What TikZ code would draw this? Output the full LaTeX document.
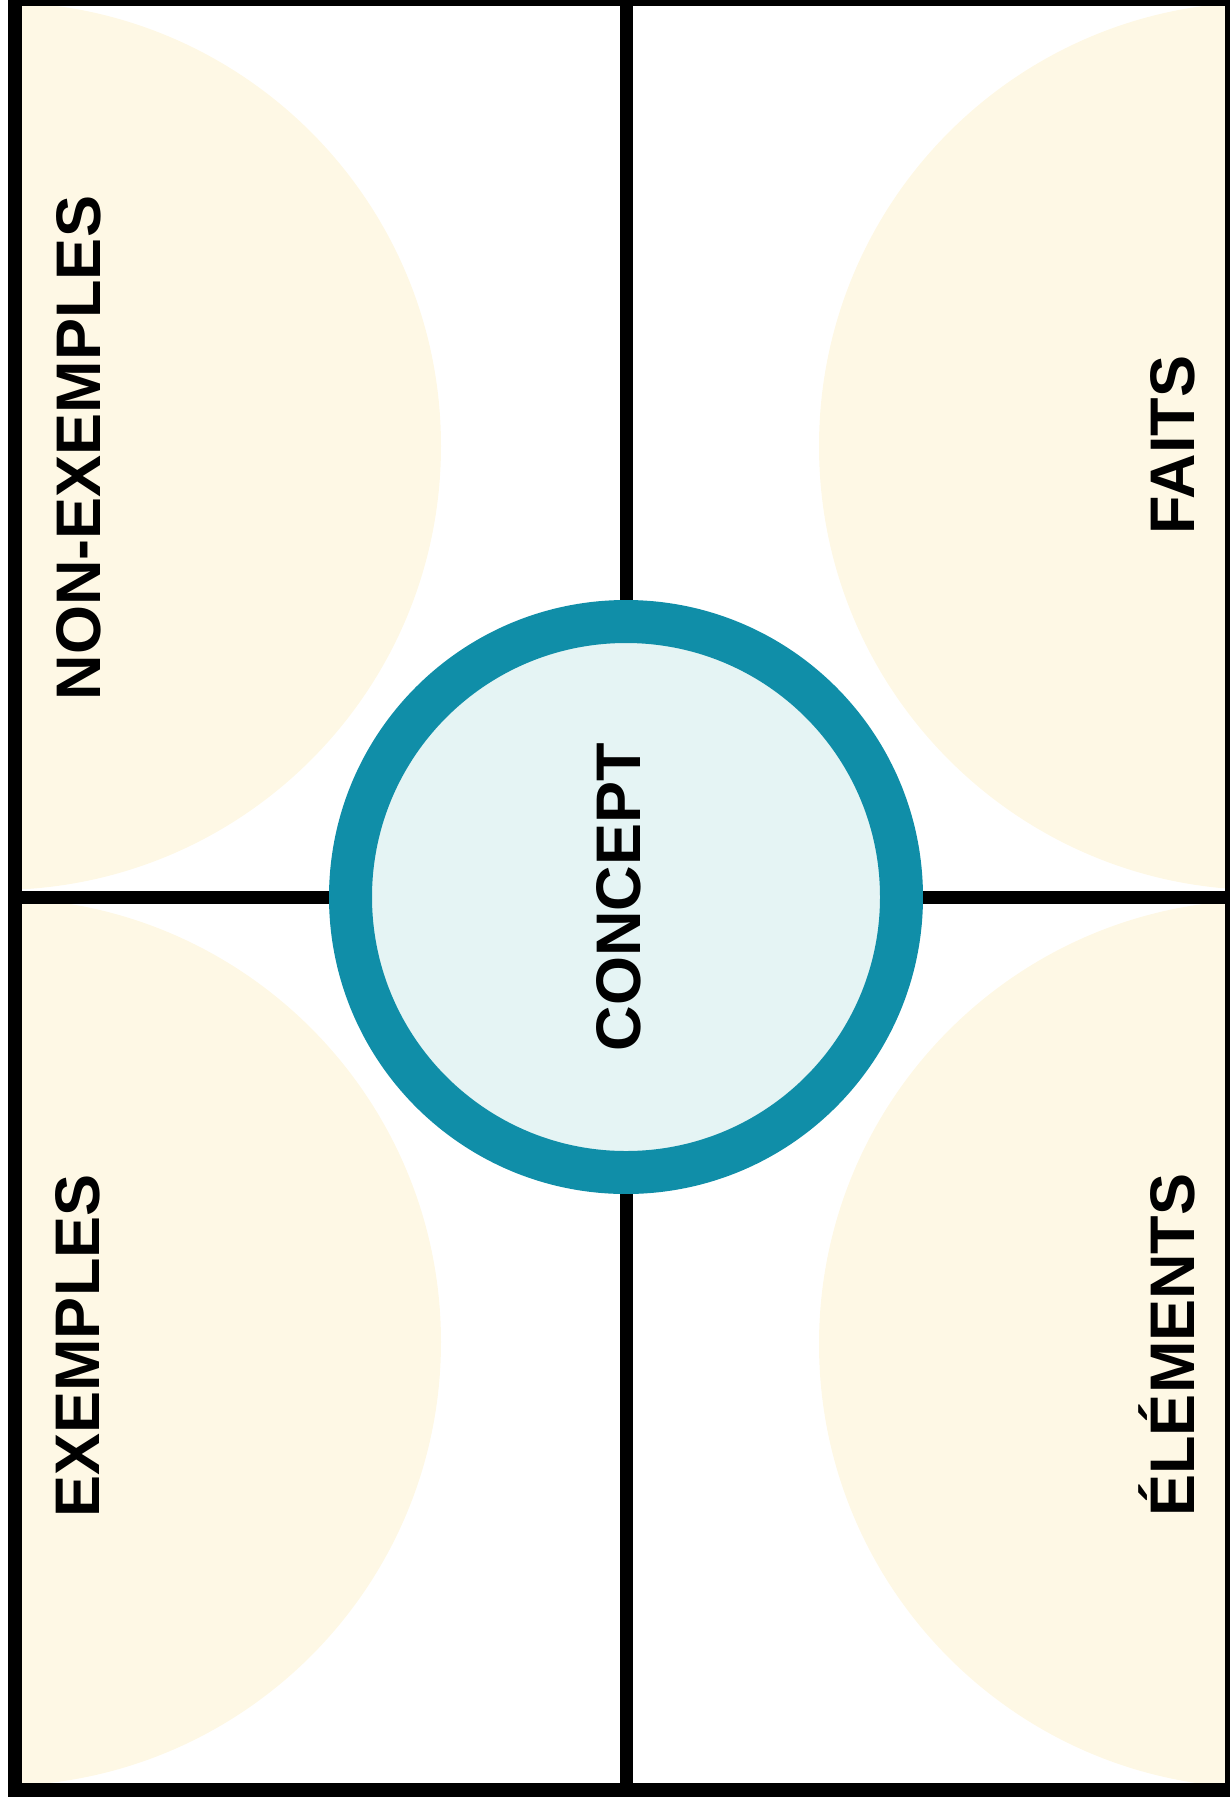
\documentclass[tikz,border=0pt]{standalone}
\usepackage{fontspec}
\setmainfont{Liberation Sans}
\definecolor{RingTeal}{RGB}{16, 142, 168}
\definecolor{PaleTeal}{RGB}{229, 244, 244}
\definecolor{Cream}{RGB}{254, 248, 229}
\usetikzlibrary{positioning}

\begin{document}
\begin{tikzpicture}[
    x=0.5pt, y=-0.5pt,
    every node/.style={font=\fontsize{31.5}{38}\selectfont\bfseries, align=center},
    lbl/.style={rotate=90, anchor=base, inner sep=0pt},
    ring/.style={circle, draw=RingTeal, fill=PaleTeal, line width=21.5pt,
                 minimum size=275.5pt, inner sep=0pt},
    rule/.style={line width=6.5pt},
    disc/.style={fill=Cream}
]
\useasboundingbox (0,0) rectangle (1230,1804);
% cream half discs, kept inside the frame
\begin{scope}
    \clip (15,-1) rectangle (1232,1790);
    \fill[disc] (-3,446) circle[radius=222pt];
    \fill[disc] (-3,1342) circle[radius=222pt];
    \fill[disc] (1263,446) circle[radius=222pt];
    \fill[disc] (1263,1344) circle[radius=222pt];
\end{scope}
\coordinate (ntop) at (626,-1);
\coordinate (nbot) at (626,1790);
\coordinate (wmid) at (15,897);
\coordinate (emid) at (1232,897);
\node[ring] (concept) at (626,897) {};
\draw[rule] (ntop) -- (concept);
\draw[rule] (nbot) -- (concept);
\draw[rule] (wmid) -- (concept);
\draw[rule] (emid) -- (concept);
\draw[line width=7pt] (15,-1) rectangle (1232,1790);
\node[lbl] (conceptlbl) at (640,897) {CONCEPT};
\node[lbl] (nonex) at (100,448) {NON-EXEMPLES};
\node[lbl] (ex) at (99,1346) {EXEMPLES};
\node[lbl] (faits) at (1194,445) {FAITS};
\node[lbl] (elem) at (1194,1345) {ÉLÉMENTS};
\end{tikzpicture}
\end{document}
